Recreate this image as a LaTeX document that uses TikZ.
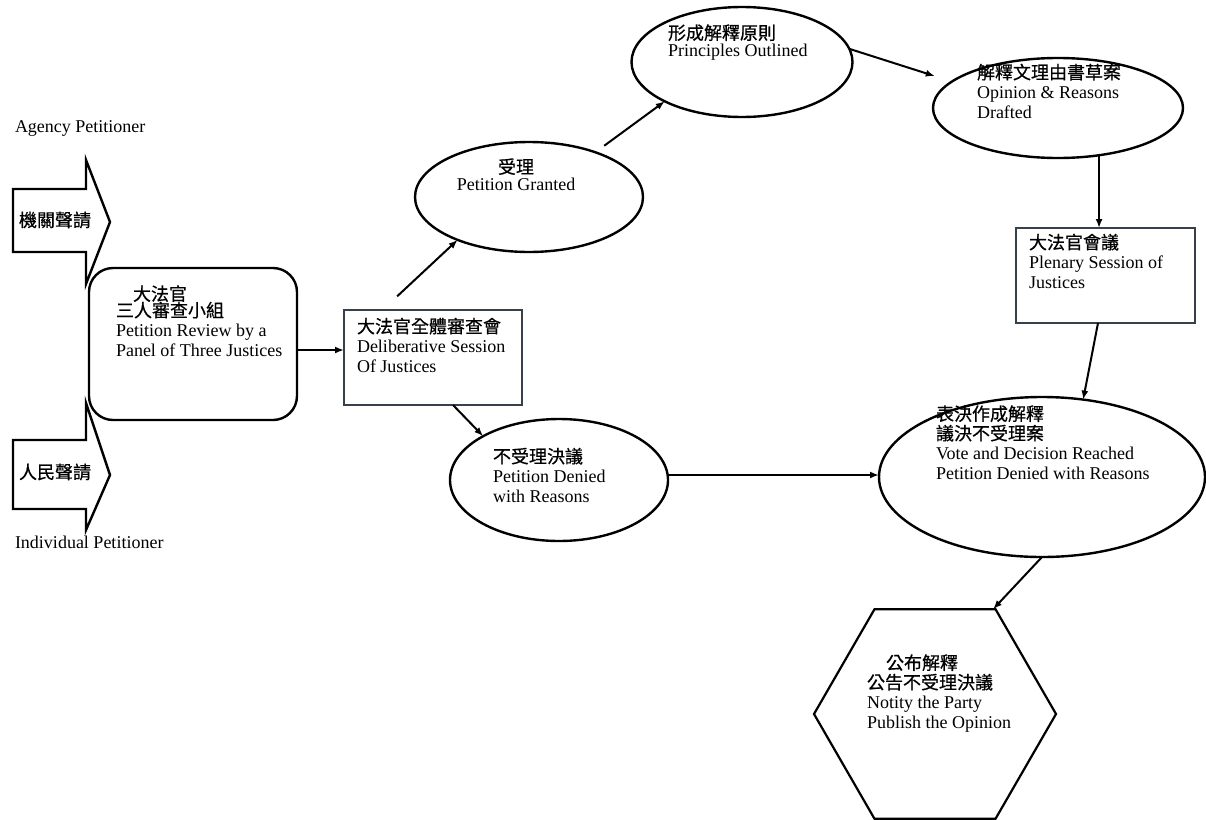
\documentclass[tikz,border=0pt]{standalone}
\usepackage{fontspec}
\setmainfont{Liberation Serif}
\newfontfamily\cjk[FakeBold=0.6]{Noto Sans CJK TC}
\usetikzlibrary{arrows.meta,shapes.geometric,calc}
\definecolor{boxline}{RGB}{55,65,75}
\begin{document}
\begin{tikzpicture}[x=1pt,y=-1pt,
  every node/.style={inner sep=0pt,outer sep=0pt},
  txt/.style={font=\fontsize{18}{19.5}\selectfont, align=left, anchor=base west},
  ctxt/.style={font=\fontsize{18}{19.5}\selectfont, align=center, anchor=base},
  cjklabel/.style={font=\cjk\fontsize{18}{20}\selectfont},
  oval/.style={draw, ellipse, line width=2.4pt},
  sqbox/.style={draw=boxline, line width=1.3pt, rectangle},
  arr/.style={line width=2pt, -{Latex[length=9pt,width=7pt]}},
  blockarrow/.style={draw, line width=2.4pt, line join=miter}]
\useasboundingbox[fill=white] (0,0) rectangle (1206,819);

% block arrows
\draw[blockarrow] (13,189) -- (86,189) -- (86,160) -- (110,222) -- (86,284) -- (86,252) -- (13,252) -- cycle;
\draw[blockarrow] (13,440) -- (86,440) -- (86,403) -- (110,475) -- (86,530) -- (86,509) -- (13,509) -- cycle;
\node[cjklabel] (agencyT) at (55,220) {機關聲請};
\node[cjklabel] (indivT) at (55,472) {人民聲請};
\node[txt] (agencyL) at (15,132) {Agency Petitioner};
\node[txt] (indivL) at (15,548) {Individual Petitioner};

% shapes
\node[draw, rounded corners=24pt, line width=2.4pt, minimum width=208pt, minimum height=152pt] (panel) at (193,344) {};
\node[sqbox, minimum width=178pt, minimum height=95pt] (delib) at (433,357.5) {};
\node[oval, minimum width=228pt, minimum height=110pt] (grant) at (529,197) {};
\node[oval, minimum width=221pt, minimum height=110pt] (princ) at (742,62) {};
\node[oval, minimum width=250pt, minimum height=100pt] (draft) at (1058,108) {};
\node[sqbox, minimum width=179pt, minimum height=95pt] (plenary) at (1105.5,275.5) {};
\node[oval, minimum width=218pt, minimum height=122pt] (deny) at (559,480) {};
\node[oval, minimum width=326pt, minimum height=160pt] (vote) at (1042,477) {};
\node[draw, regular polygon, regular polygon sides=6, minimum size=242pt, line width=2.2pt] (pub) at (935,714) {};

% texts (anchored at the baseline of the last line)
\node[txt] (panelT) at (116,356) {\hspace*{17pt}{\cjk 大法官}\\[-3pt]{\cjk 三人審查小組}\\Petition Review by a\\Panel of Three Justices};
\node[txt] (delibT) at (357,372) {{\cjk 大法官全體審查會}\\Deliberative Session\\Of Justices};
\node[ctxt] (grantT) at (516,190) {{\cjk 受理}\\[-3pt]Petition Granted};
\node[txt] (princT) at (668,56) {{\cjk 形成解釋原則}\\[-3pt]Principles Outlined};
\node[txt] (draftT) at (977,118) {{\cjk 解釋文理由書草案}\\Opinion \& Reasons\\Drafted};
\node[txt] (plenaryT) at (1029,288) {{\cjk 大法官會議}\\Plenary Session of\\Justices};
\node[txt] (denyT) at (493,502) {{\cjk 不受理決議}\\Petition Denied\\with Reasons};
\node[txt] (voteT) at (936,479) {{\cjk 表決作成解釋}\\{\cjk 議決不受理案}\\Vote and Decision Reached\\Petition Denied with Reasons};
\node[txt] (pubT) at (867,728) {\hspace*{19pt}{\cjk 公布解釋}\\{\cjk 公告不受理決議}\\Notity the Party\\Publish the Opinion};

% connectors
\draw[arr] ([yshift=-6pt]panel.east) -- ([yshift=-6pt]panel.east -| delib.west);
\draw[arr, shorten <=20pt] ([xshift=-50.5pt]delib.north) -- (grant.211);
\draw[arr, shorten <=11pt] (grant.34) -- (princ.207);
\draw[arr, shorten >=18pt] (princ.7) -- (draft.166);
\draw[arr] (draft.-49) -- (draft.-49 |- plenary.north);
\draw[arr] ([xshift=-7.5pt]plenary.south) -- (vote.62);
\draw[arr] ([xshift=20pt]delib.south) -- (deny.150);
\draw[arr] ([yshift=5pt]deny.east) -- ([yshift=5pt]deny.east -| vote.west);
\draw[arr] (vote.south) -- (pub.61);
\end{tikzpicture}
\end{document}
